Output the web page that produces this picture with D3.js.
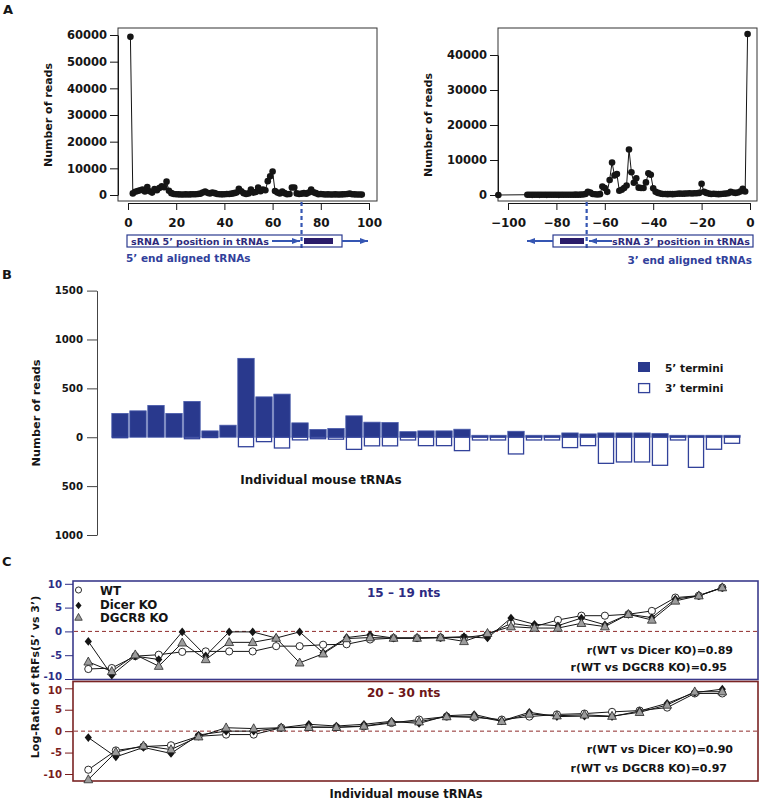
<!DOCTYPE html>
<html><head><meta charset="utf-8">
<script src="https://cdn.jsdelivr.net/npm/d3@7"></script>
<style>
body{margin:0;background:#fff;}
svg text{font-family:'DejaVu Sans',sans-serif;font-weight:bold;}
</style></head><body>
<svg id="fig" width="760" height="802"></svg>
<script>
// ---------- DATA ----------
// Panel A (left): reads by sRNA 5' position in 5'-aligned tRNAs (positions 1..97)
const readsA5 = [59300, 600, 1200, 1500, 1800, 2000, 1300, 3000, 1400, 900,
 2200, 1800, 2600, 3300, 2900, 5000, 1600, 700, 400, 300,
 250, 200, 200, 250, 200, 250, 300, 300, 400, 500,
 900, 1300, 800, 600, 900, 700, 400, 300, 250, 300,
 350, 400, 500, 700, 900, 2300, 1400, 700, 400, 600,
 2000, 900, 1100, 2800, 1400, 2000, 1800, 5200, 7000, 8800,
 1500, 900, 600, 1300, 700, 300, 400, 2800, 2800, 600,
 400, 500, 700, 500, 900, 2000, 1000, 700, 300, 400,
 300, 200, 250, 200, 200, 250, 200, 200, 250, 300,
 350, 500, 300, 250, 200, 200, 150];
const posA5 = d3.range(1, readsA5.length + 1);
const xTicksA5 = [0, 20, 40, 60, 80, 100];
const yTicksA5 = [0, 10000, 20000, 30000, 40000, 50000, 60000];

// Panel A (right): reads by sRNA 3' position in 3'-aligned tRNAs
const posA3 = [-104].concat(d3.range(-92, 0));
const readsA3 = [0,
 80, 60, 50, 70, 60, 50, 60, 70, 50, 60, 80, 70, 60, 50, 70, 80, 60, 70, 90, 80, 100, 90, 120, 150,
 300, 900, 700, 300, 200, 150, 250, 2400, 2000, 900,
 4300, 9300, 5600, 6000, 1200, 1500, 2000, 2700, 13000, 6500,
 3500, 4800, 2100, 2000, 2000, 3600, 6200, 5800, 1900, 900,
 600, 400, 300, 300, 250, 300, 250, 300, 350, 400,
 350, 400, 450, 500, 450, 500, 500, 600, 3200, 900,
 600, 400, 300, 350, 300, 250, 300, 350, 400, 500,
 900, 700, 600, 700, 1000, 1800, 1000, 46000];
const xTicksA3 = [-100, -80, -60, -40, -20, 0];
const yTicksA3 = [0, 10000, 20000, 30000, 40000];

// Panel B: reads per individual mouse tRNA
const tRNAsB = d3.range(1, 36);
const fivePrime = [243, 270, 325, 243, 366, 65, 123, 807, 413, 441, 147, 79, 89, 219, 154,
 150, 57, 65, 65, 82, 20, 20, 61, 20, 20, 44, 34, 44, 44, 44, 37, 20, 20, 20, 20];
const threePrime = [5, 0, 0, 0, 15, 3, 0, 97, 45, 110, 27, 15, 20, 124, 88,
 88, 28, 86, 86, 137, 28, 28, 171, 28, 28, 106, 86, 267, 253, 253, 287, 28, 308, 123, 62];
const yTicksB = [-1000, -500, 0, 500, 1000, 1500];

// Panel C: log-ratio of tRFs (5' vs 3')
const WT15    = [-7.9, -7.7, -5.2, -4.9, -4.3, -4.2, -4.2, -4.2, -3.1, -3.1, -2.8, -2.7, -1.7, -1.4, -1.4, -1.3, -1.3, -0.7, 1.7, 1.0, 2.4, 3.3, 3.3, 3.6, 4.3, 7.1, 7.5, 9.2];
const Dicer15 = [-2.1, -9.2, -5.2, -5.9, -0.1, -5.1, -0.1, -0.1, -1.4, -0.1, -4.5, -1.3, -0.7, -1.4, -1.4, -1.3, -1.1, -1.4, 2.8, 1.5, 1.2, 2.8, 1.4, 3.6, 2.9, 6.8, 7.5, 9.2];
const DGCR15  = [-6.4, -8.4, -4.9, -7.3, -2.4, -5.9, -2.3, -2.3, -1.4, -6.6, -4.7, -1.5, -1.3, -1.4, -1.4, -1.3, -2.1, -0.4, 1.0, 0.7, 0.7, 1.7, 1.0, 3.6, 2.4, 6.4, 7.5, 9.2];
const WT20    = [-9.0, -4.5, -3.6, -3.3, -1.2, -0.8, -0.8, 0.8, 1.0, 0.9, 1.1, 1.9, 2.7, 3.4, 3.2, 2.7, 3.4, 3.9, 4.1, 4.5, 4.8, 5.5, 8.8, 8.8];
const Dicer20 = [-1.5, -6.0, -3.8, -5.2, -0.9, 0.0, 0.0, 0.8, 1.6, 1.2, 1.6, 2.3, 1.8, 3.6, 3.9, 2.4, 4.4, 3.4, 3.5, 3.4, 4.7, 6.5, 9.0, 9.8];
const DGCR20  = [-11.3, -4.9, -3.4, -4.3, -1.3, 0.8, 0.6, 0.8, 0.9, 0.9, 1.2, 2.1, 2.2, 3.4, 3.5, 2.3, 4.0, 3.6, 3.8, 3.5, 4.4, 6.1, 9.2, 9.2];
const yTicksC = [-10, -5, 0, 5, 10];
const seriesNames = ["WT", "Dicer KO", "DGCR8 KO"];
const corrTop = ["r(WT vs Dicer KO)=0.89", "r(WT vs DGCR8 KO)=0.95"];
const corrBot = ["r(WT vs Dicer KO)=0.90", "r(WT vs DGCR8 KO)=0.97"];

// ---------- DRAW ----------
const svg = d3.select("#fig");
const INK = "#151515", BLUE = "#2c3b8f", DASHBLUE = "#3556b3", DARKBAR = "#2a1c6b", TXTNAVY = "#2e2b7c";
const defs = svg.append("defs");
defs.append("marker").attr("id", "arr").attr("viewBox", "0 0 8 6").attr("refX", 8).attr("refY", 3)
  .attr("markerWidth", 8).attr("markerHeight", 6).attr("markerUnits", "userSpaceOnUse").attr("orient", "auto")
  .append("path").attr("d", "M0,0L8,3L0,6Z").attr("fill", DASHBLUE);

function txt(s, x, y, size, opts = {}) {
  const t = svg.append("text").attr("x", x).attr("y", y).attr("font-size", size)
    .attr("fill", opts.fill || INK).attr("text-anchor", opts.anchor || "start").text(s);
  if (opts.rotate) t.attr("transform", `rotate(-90,${x},${y})`);
  return t;
}
function styleAxis(g, size, color) {
  g.attr("font-size", size).attr("color", color || INK);
  g.selectAll("text").attr("fill", color || INK);
}

// Panel labels
txt("A", 3, 14, 13);
txt("B", 2, 279, 13);
txt("C", 2, 566, 13);

function panelA(cfg) {
  const x = d3.scaleLinear().domain(cfg.xDom).range(cfg.xRange);
  const y = d3.scaleLinear().domain(cfg.yDom).range(cfg.yRange);
  const g = svg.append("g");
  g.append("rect").attr("x", cfg.box[0]).attr("y", cfg.box[1])
    .attr("width", cfg.box[2] - cfg.box[0]).attr("height", cfg.box[3] - cfg.box[1])
    .attr("fill", "none").attr("stroke", "#333").attr("stroke-width", 1);
  const ya = g.append("g").attr("transform", `translate(${cfg.box[0]},0)`)
    .call(d3.axisLeft(y).tickValues(cfg.yTicks).tickFormat(d3.format("d")).tickSize(8).tickSizeOuter(0).tickPadding(3));
  styleAxis(ya, 11.5);
  const xa = g.append("g").attr("transform", `translate(0,${cfg.box[3] + 2})`)
    .call(d3.axisBottom(x).tickValues(cfg.xTicks).tickFormat(d3.format("d")).tickSize(7).tickSizeOuter(0).tickPadding(8));
  styleAxis(xa, 12);
  const data = cfg.pos.map((p, i) => [p, cfg.vals[i]]);
  g.append("path").datum(data).attr("fill", "none").attr("stroke", INK).attr("stroke-width", 1)
    .attr("d", d3.line().x(d => x(d[0])).y(d => y(d[1])));
  g.selectAll("circle.pt").data(data).join("circle").attr("class", "pt")
    .attr("cx", d => x(d[0])).attr("cy", d => y(d[1])).attr("r", 3.3).attr("fill", INK);
  txt("Number of reads", cfg.ylabX, (cfg.yRange[0] + cfg.yRange[1]) / 2, 11, { anchor: "middle", rotate: true });
  const dx = x(cfg.dashAt);
  svg.append("line").attr("x1", dx).attr("x2", dx).attr("y1", cfg.box[3] + 1).attr("y2", 248)
    .attr("stroke", DASHBLUE).attr("stroke-width", 2.2).attr("stroke-dasharray", "4,3");
  return x;
}

panelA({ pos: posA5, vals: readsA5, xDom: [0, 100], xRange: [128, 369], yDom: [0, 60000], yRange: [195, 35],
  box: [118, 28, 377, 201], xTicks: xTicksA5, yTicks: yTicksA5, ylabX: 52, dashAt: 72 });
panelA({ pos: posA3, vals: readsA3, xDom: [-100, 0], xRange: [508, 750], yDom: [0, 40000], yRange: [195, 55],
  box: [498, 28, 757, 201], xTicks: xTicksA3, yTicks: yTicksA3, ylabX: 432, dashAt: -67.5 });

// Annotation boxes under panel A
function arrow(x1, x2, y) {
  svg.append("line").attr("x1", x1).attr("x2", x2).attr("y1", y).attr("y2", y)
    .attr("stroke", DASHBLUE).attr("stroke-width", 2).attr("marker-end", "url(#arr)");
}
svg.append("rect").attr("x", 127).attr("y", 235).attr("width", 215).attr("height", 12)
  .attr("fill", "none").attr("stroke", BLUE).attr("stroke-width", 1.2);
txt("sRNA 5\u2019 position in tRNAs", 131, 245, 9.5, { fill: TXTNAVY });
arrow(272, 300, 241);
svg.append("rect").attr("x", 304).attr("y", 238).attr("width", 29).attr("height", 6).attr("fill", DARKBAR);
arrow(342, 368, 241);
txt("5\u2019 end aligned tRNAs", 126, 262, 10.5, { fill: "#31419b" });
svg.append("rect").attr("x", 553).attr("y", 235).attr("width", 200).attr("height", 12)
  .attr("fill", "none").attr("stroke", BLUE).attr("stroke-width", 1.2);
svg.append("rect").attr("x", 560).attr("y", 238).attr("width", 24).attr("height", 6).attr("fill", DARKBAR);
arrow(612, 589, 241);
txt("sRNA 3\u2019 position in tRNAs", 612, 245, 9.5, { fill: TXTNAVY });
arrow(553, 527, 241);
txt("3\u2019 end aligned tRNAs", 752, 264, 10.5, { fill: "#31419b", anchor: "end" });

// ---------- Panel B ----------
{
  const y = d3.scaleLinear().domain([-1000, 1500]).range([535, 290.6]);
  const x = d3.scaleBand().domain(tRNAsB).range([111, 741]).paddingInner(0.09).paddingOuter(0.045);
  const ya = svg.append("g").attr("transform", "translate(97,0)")
    .call(d3.axisLeft(y).tickValues(yTicksB).tickFormat(d => Math.abs(d)).tickSize(10).tickSizeOuter(0).tickPadding(4));
  styleAxis(ya, 10.2);
  ya.select(".domain").attr("stroke", "#444");
  ya.selectAll(".tick line").attr("stroke", "#444");
  svg.append("g").selectAll("rect").data(tRNAsB).join("rect")
    .attr("x", d => x(d)).attr("width", x.bandwidth())
    .attr("y", (d, i) => y(fivePrime[i])).attr("height", (d, i) => y(0) - y(fivePrime[i]))
    .attr("fill", "#29398d").attr("stroke", "#4658aa").attr("stroke-width", 0.8);
  svg.append("g").selectAll("rect").data(tRNAsB.filter((d, i) => threePrime[i] > 0)).join("rect")
    .attr("x", d => x(d) + 0.6).attr("width", x.bandwidth() - 1.2)
    .attr("y", y(0)).attr("height", d => y(-threePrime[tRNAsB.indexOf(d)]) - y(0))
    .attr("fill", "#fff").attr("stroke", "#32429a").attr("stroke-width", 1.3);
  txt("Number of reads", 40, 413, 11.3, { anchor: "middle", rotate: true });
  txt("Individual mouse tRNAs", 321, 484, 12, { anchor: "middle" });
  svg.append("rect").attr("x", 638).attr("y", 362).attr("width", 12).attr("height", 10).attr("fill", "#29398d");
  svg.append("rect").attr("x", 638.6).attr("y", 383.6).attr("width", 11).attr("height", 9)
    .attr("fill", "#fff").attr("stroke", "#32429a").attr("stroke-width", 1.3);
  txt("5\u2019 termini", 665, 371.5, 10.6);
  txt("3\u2019 termini", 665, 392, 10.6);
}

// ---------- Panel C ----------
function panelC(cfg) {
  const x = d3.scaleLinear().domain([0, cfg.series[0].length - 1]).range([88.3, 722.3]);
  const y = d3.scaleLinear().domain([-10, 10]).range(cfg.yRange);
  svg.append("rect").attr("x", 73).attr("y", cfg.box[0]).attr("width", 685).attr("height", cfg.box[1] - cfg.box[0])
    .attr("fill", "none").attr("stroke", cfg.boxColor).attr("stroke-width", 1.6);
  svg.append("line").attr("x1", 74).attr("x2", 757).attr("y1", y(0)).attr("y2", y(0))
    .attr("stroke", "#8e2b2b").attr("stroke-width", 1).attr("stroke-dasharray", "4,3");
  const ya = svg.append("g").attr("transform", "translate(73,0)")
    .call(d3.axisLeft(y).tickValues(yTicksC).tickFormat(d => String(d)).tickSize(8).tickSizeOuter(0).tickPadding(3));
  ya.select(".domain").remove();
  styleAxis(ya, 10.2, cfg.tickColor);
  // nudge the edge labels apart where the two boxes meet
  ya.selectAll(".tick text").filter(d => d === cfg.nudgeTick).attr("dy", cfg.nudgeDy);
  const line = d3.line().x((d, i) => x(i)).y(d => y(d));
  cfg.series.forEach(s => svg.append("path").datum(s).attr("fill", "none").attr("stroke", INK).attr("stroke-width", 1).attr("d", line));
  drawMarkers(cfg.series[0], x, y, "circle");
  drawMarkers(cfg.series[1], x, y, "diamond");
  drawMarkers(cfg.series[2], x, y, "triangle");
  txt(cfg.title, 367, cfg.titleY, 12, { fill: cfg.titleColor });
  txt(cfg.corr[0], 733, cfg.corrY[0], 11, { anchor: "end" });
  txt(cfg.corr[1], 727, cfg.corrY[1], 11, { anchor: "end" });
}
function marker(sel, kind, scale = 1) {
  if (kind === "circle") return sel.append("circle").attr("r", 3.6 * scale).attr("fill", "#fff").attr("stroke", INK).attr("stroke-width", 0.9);
  if (kind === "diamond") return sel.append("path").attr("d", `M0,${-4.3 * scale}L${3.6 * scale},0L0,${4.3 * scale}L${-3.6 * scale},0Z`).attr("fill", INK);
  return sel.append("path").attr("d", `M0,${-4.8 * scale}L${4.4 * scale},${3.2 * scale}L${-4.4 * scale},${3.2 * scale}Z`)
    .attr("fill", "#9c9c9c").attr("stroke", "#2a2a2a").attr("stroke-width", 0.8);
}
function drawMarkers(vals, x, y, kind) {
  vals.forEach((v, i) => {
    const g = svg.append("g").attr("transform", `translate(${x(i)},${y(v)})`);
    marker(g, kind);
  });
}
panelC({ series: [WT15, Dicer15, DGCR15], yRange: [679, 583.8], box: [581, 679.5], boxColor: "#3b3b8c",
  tickColor: "#2e2e86", title: "15 \u2013 19 nts", titleY: 596.5, titleColor: "#2d2b82", corr: corrTop, corrY: [654, 671],
  nudgeTick: -10, nudgeDy: "0.05em" });
panelC({ series: [WT20, Dicer20, DGCR20], yRange: [774, 688.3], box: [681.5, 781], boxColor: "#7a2424",
  tickColor: "#7a1c1c", title: "20 \u2013 30 nts", titleY: 696.5, titleColor: "#6e1717", corr: corrBot, corrY: [753, 771.5],
  nudgeTick: 10, nudgeDy: "0.55em" });

// legend C
["circle", "diamond", "triangle"].forEach((k, i) => {
  const yy = [590, 605.5, 617.5][i];
  const g = svg.append("g").attr("transform", `translate(78.5,${yy})`);
  marker(g, k, 0.85);
  txt(seriesNames[i], 100, [594.5, 609, 621.5][i], 11.8);
});
txt("Log-Ratio of tRFs(5\u2019 vs 3\u2019)", 39, 677, 11, { anchor: "middle", rotate: true });
txt("Individual mouse tRNAs", 406, 798, 11.4, { anchor: "middle" });
</script>
</body></html>
